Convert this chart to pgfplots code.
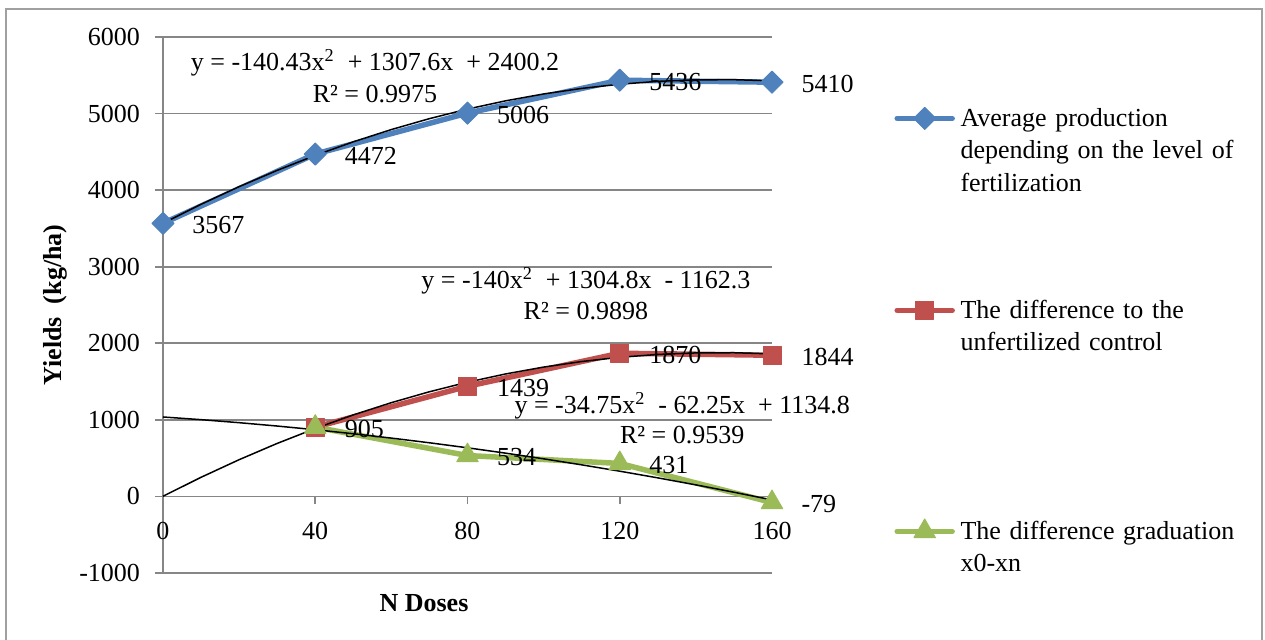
\documentclass[border=0pt]{standalone}
\usepackage{fontspec}
\setmainfont{Liberation Serif}
\usepackage{pgfplots}
\pgfplotsset{compat=1.18}
\definecolor{sblue}{RGB}{79,129,189}
\definecolor{sred}{RGB}{192,80,77}
\definecolor{sgreen}{RGB}{155,187,89}
\definecolor{gridc}{RGB}{134,134,134}
\definecolor{framec}{RGB}{160,160,160}
\newcommand{\ff}{\fontsize{13}{15}\selectfont}
\begin{document}
\begin{tikzpicture}
\path[use as bounding box] (-81.5pt,-33pt) rectangle (551pt,286.5pt);
\draw[framec, line width=0.9pt] (-78.5pt,-50pt) -- (-78.5pt,282pt) -- (549.5pt,282pt) -- (549.5pt,-50pt);
\begin{axis}[
  at={(0pt,0pt)}, anchor=south west,
  scale only axis, width=304.5pt, height=268pt,
  xmin=0, xmax=160, ymin=-1000, ymax=6000,
  axis x line=middle, axis y line=left,
  axis line style={-, draw=gridc, line width=0.8pt},
  every inner x axis line/.append style={-},
  every outer y axis line/.append style={-},
  hide obscured x ticks=false,
  xtick={0,40,80,120,160},
  ytick={-1000,0,1000,2000,3000,4000,5000,6000},
  ymajorgrids, major grid style={draw=gridc, line width=0.8pt},
  tick style={draw=gridc, line width=0.8pt},
  tick align=outside, major tick length=4pt,
  /pgf/number format/assume math mode=true,
  /pgf/number format/1000 sep={},
  ticklabel style={font=\ff},
  xticklabel style={yshift=-5.5pt},
  yticklabel style={xshift=-4pt},
  xlabel={N Doses}, ylabel={Yields\ \ (kg/ha)},
  every axis x label/.style={at={(rel axis cs:0.4286,-0.056)}, anchor=center, font=\ff\bfseries},
  every axis y label/.style={at={(rel axis cs:-0.1773,0.5)}, anchor=center, rotate=90, font=\ff\bfseries},
  clip=false,
  every node near coord/.append style={anchor=west, xshift=14.5pt, yshift=-0.7pt, text=black, font=\ff, inner sep=0pt},
  legend style={at={(rel axis cs:1.2004,0.8825)}, anchor=north west, draw=none, fill=none, inner sep=0pt, column sep=2.8pt, row sep=0pt, font=\fontsize{13}{16.25}\selectfont, cells={anchor=base west}},
  legend image code/.code={\draw[#1, mark repeat=2, mark phase=2] plot coordinates {(0pt,4pt) (13.75pt,4pt) (27.5pt,4pt)};},
]
\addplot[sblue, line width=2.75pt, line cap=round, line join=round, mark=square*, mark size=3.9pt, mark options={rotate=45, line width=0.5pt, fill=sblue, draw=sblue}, nodes near coords, point meta=explicit symbolic]
  coordinates {(0,3567)[3567] (40,4472)[4472] (80,5006)[5006] (120,5436)[5436] (160,5410)[5410]};
\addlegendentry[text width=150pt, align=left, inner xsep=0pt, text height=11pt, text depth=81pt]{Average production\\depending on the level of\\fertilization}
\addplot[sred, line width=2.75pt, line cap=round, line join=round, mark=square*, mark size=4.5pt, mark options={line width=0.5pt, fill=sred, draw=sred}, nodes near coords, point meta=explicit symbolic]
  coordinates {(40,905)[905] (80,1439)[1439] (120,1870)[1870] (160,1844)[1844]};
\addlegendentry[text width=150pt, align=left, inner xsep=0pt, text height=11pt, text depth=95.5pt]{The difference to the\\unfertilized control}
\addplot[sgreen, line width=2.75pt, line cap=round, line join=round, mark=triangle*, mark size=6.2pt, mark options={line width=0.5pt, fill=sgreen, draw=sgreen}, nodes near coords, point meta=explicit symbolic]
  coordinates {(40,905)[] (80,534)[534] (120,431)[431] (160,-79)[-79]};
\addlegendentry[text width=150pt, align=left, inner xsep=0pt, text height=11pt]{The difference graduation\\x0-xn}
% trendlines (polynomial, order 2)
\addplot[black, line width=0.75pt, mark=none, forget plot] coordinates {
(0,3567.4) (10,3815.3) (20,4045.6) (30,4258.4) (40,4453.7) (50,4631.4) (60,4791.5) (70,4934.1) (80,5059.1) (90,5166.6) (100,5256.5) (110,5328.9) (120,5383.7) (130,5421.0) (140,5440.7) (150,5442.9) (160,5427.5)};
\addplot[black, line width=0.75pt, mark=none, forget plot] coordinates {
(0,2.5) (10,250.0) (20,479.9) (30,692.4) (40,887.3) (50,1064.8) (60,1224.7) (70,1367.2) (80,1492.1) (90,1599.6) (100,1689.5) (110,1762.0) (120,1816.9) (130,1854.4) (140,1874.3) (150,1876.8) (160,1861.7)};
\addplot[black, line width=0.75pt, mark=none, forget plot] coordinates {
(0,1037.8) (10,1002.7) (20,963.2) (30,919.4) (40,871.3) (50,818.8) (60,762.0) (70,700.8) (80,635.3) (90,565.4) (100,491.2) (110,412.7) (120,329.8) (130,242.6) (140,151.0) (150,55.1) (160,-45.2)};
% trendline equations
\node[font=\ff] at (axis cs:55.7,5666) {y = -140.43x\textsuperscript{2}\ \ + 1307.6x\ \ + 2400.2};
\node[font=\ff] at (axis cs:55.7,5261) {R² = 0.9975};
\node[font=\ff] at (axis cs:111.1,2820) {y = -140x\textsuperscript{2}\ \ + 1304.8x\ \ - 1162.3};
\node[font=\ff] at (axis cs:111.1,2415) {R² = 0.9898};
\node[font=\ff] at (axis cs:136.4,1188) {y = -34.75x\textsuperscript{2}\ \ - 62.25x\ \ + 1134.8};
\node[font=\ff] at (axis cs:136.4,796) {R² = 0.9539};
\end{axis}
\end{tikzpicture}
\end{document}
